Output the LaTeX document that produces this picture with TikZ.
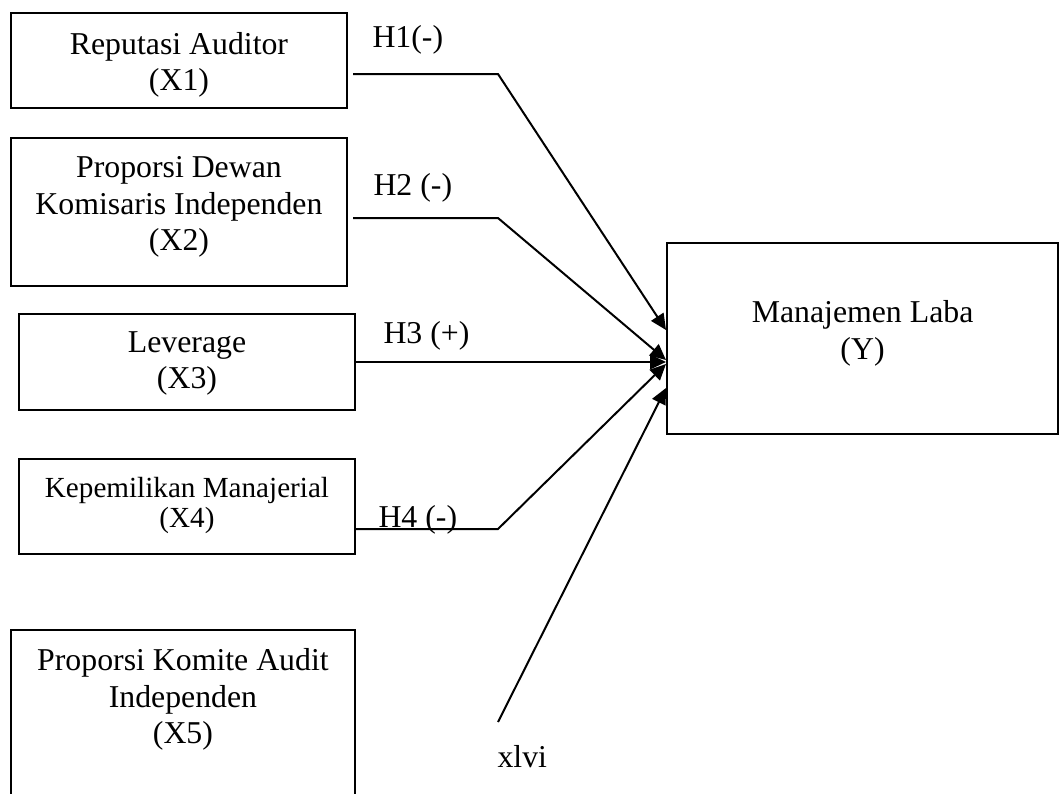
\documentclass[tikz,border=0pt]{standalone}
\usepackage{fontspec}
\setmainfont{Liberation Serif}
\usepackage{tikz}
\usetikzlibrary{arrows.meta}

\begin{document}
\begin{tikzpicture}[x=0.3774pt,y=-0.3774pt,
  var/.style={draw,line width=0.75pt,minimum width=126.8pt,align=center,inner sep=0pt,
    anchor=north west,font=\fontsize{12}{13.8}\selectfont},
  hyp/.style={anchor=base west,inner sep=0pt,font=\fontsize{12}{13.8}\selectfont},
  link/.style={line width=0.75pt,-{Triangle[length=6pt,width=5.5pt]}}]

  \useasboundingbox (0,0) rectangle (1059,793);

  % Nodes
  \node[var,text height=29.4pt,text depth=6.4pt] (X1) at (10,12) {Reputasi Auditor\\(X1)};
  \node[var,text height=42.6pt,text depth=13.2pt] (X2) at (10,137) {Proporsi Dewan\\Komisaris Independen\\(X2)};
  \node[var,text height=28.3pt,text depth=7.9pt] (X3) at (18,313) {Leverage\\(X3)};
  \node[var,text height=26pt,text depth=9.8pt,font=\fontsize{11}{11.3}\selectfont] (X4) at (18,458) {Kepemilikan Manajerial\\(X4)};
  \node[var,minimum width=129.8pt,text height=43pt,text depth=80pt] (X5) at (10,629) {Proporsi Komite Audit\\Independen\\(X5)};
  \node[var,minimum width=147.6pt,text height=43.8pt,text depth=28.3pt] (Y) at (666,242) {Manajemen Laba\\(Y)};

  % Labels
  \node[hyp] (h1) at (372,47) {H1(-)};
  \node[hyp] (h2) at (373,195) {H2 (-)};
  \node[hyp] (h3) at (383,343) {H3 (+)};
  \node[hyp] (h4) at (378,527) {H4 (-)};
  \node[hyp] (pg) at (497,767) {xlvi};

  % Paths
  \coordinate (s1) at (353,74);
  \coordinate (b1) at (498,74);
  \coordinate (t1) at (0,330);
  \coordinate (s2) at (353,218);
  \coordinate (b2) at (498,218);
  \coordinate (t2) at (0,360);
  \coordinate (b4) at (498,529);
  \coordinate (t4) at (0,364);
  \coordinate (s5) at (498,722);
  \coordinate (t5) at (0,388);
  \draw[link] (s1) -- (b1) -- (Y.west |- t1);
  \draw[link] (s2) -- (b2) -- (Y.west |- t2);
  \draw[link] (X3.east) -- (Y.west |- X3.east);
  \draw[link] (X4.east |- b4) -- (b4) -- (Y.west |- t4);
  \draw[link] (s5) -- (Y.west |- t5);
\end{tikzpicture}
\end{document}
